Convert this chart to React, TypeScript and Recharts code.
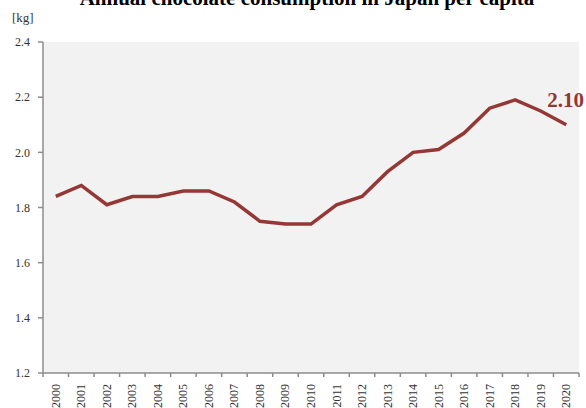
import React from 'react';
import { LineChart, Line, XAxis, YAxis, CartesianGrid, LabelList } from 'recharts';

const years = ['2000', '2001', '2002', '2003', '2004', '2005', '2006', '2007', '2008', '2009', '2010',
  '2011', '2012', '2013', '2014', '2015', '2016', '2017', '2018', '2019', '2020'];
const consumption = [1.84, 1.88, 1.81, 1.84, 1.84, 1.86, 1.86, 1.82, 1.75, 1.74, 1.74,
  1.81, 1.84, 1.93, 2.0, 2.01, 2.07, 2.16, 2.19, 2.15, 2.1];
const yTicks = [1.2, 1.4, 1.6, 1.8, 2.0, 2.2, 2.4];

const data = years.map((year, i) => ({ year, kg: consumption[i] }));

const W = 586;
const H = 408;
const PLOT_LEFT = 43;
const PLOT_RIGHT = 579;
const STEP = (PLOT_RIGHT - PLOT_LEFT) / years.length;

const font = '"Liberation Serif", "Times New Roman", serif';
const axisColor = '#8c8c8c';

const YearTick = (props: any) => {
  const { x, y, payload, index } = props;
  const isLast = index === years.length - 1;
  return (
    <g>
      <line x1={x - STEP / 2} y1={y - 8} x2={x - STEP / 2} y2={y - 4} stroke={axisColor} strokeWidth={1.5} />
      {isLast && <line x1={x + STEP / 2} y1={y - 8} x2={x + STEP / 2} y2={y - 4} stroke={axisColor} strokeWidth={1.5} />}
      <text
        x={0}
        y={0}
        transform={`translate(${x + 4},${y + 3}) rotate(-90)`}
        textAnchor="end"
        fontSize={12}
        fontFamily={font}
        fill="#333"
      >
        {payload.value}
      </text>
    </g>
  );
};

// value label on the last point only
const EndLabel = (props: any) => {
  const { x, y, index, value } = props;
  if (index !== years.length - 1) return null;
  return (
    <text x={x - 19} y={y - 18} fontSize={21} fontWeight="bold" fontFamily={font} fill="#943634">
      {Number(value).toFixed(2)}
    </text>
  );
};

export default function App() {
  return (
    <div style={{ position: 'fixed', left: 0, top: 0, width: W, height: H, background: '#fff', fontFamily: font, overflow: 'hidden' }}>
      <div style={{ position: 'absolute', left: 14, top: -14, width: W, textAlign: 'center', fontSize: 21, fontWeight: 'bold', color: '#000', whiteSpace: 'nowrap' }}>
        Annual chocolate consumption in Japan per capita
      </div>
      <div style={{ position: 'absolute', left: 12, top: 10, fontSize: 13, color: '#333' }}>[kg]</div>
      <LineChart width={W} height={H} data={data} margin={{ top: 42, right: W - PLOT_RIGHT, left: 0, bottom: 0 }}>
        <CartesianGrid fill="#f2f2f2" horizontal={false} vertical={false} />
        <XAxis
          dataKey="year"
          scale="band"
          height={35}
          interval={0}
          tickLine={false}
          axisLine={{ stroke: axisColor, strokeWidth: 1.5 }}
          tick={<YearTick />}
        />
        <YAxis
          width={PLOT_LEFT}
          domain={[1.2, 2.4]}
          ticks={yTicks}
          tickFormatter={(v: number) => v.toFixed(1)}
          tickSize={5}
          tickMargin={8}
          axisLine={{ stroke: axisColor, strokeWidth: 1.5 }}
          tickLine={{ stroke: axisColor, strokeWidth: 1.5 }}
          tick={{ fontSize: 12, fontFamily: font, fill: '#333' }}
        />
        <Line
          type="linear"
          dataKey="kg"
          stroke="#953735"
          strokeWidth={3.5}
          dot={false}
          isAnimationActive={false}
        >
          <LabelList dataKey="kg" content={<EndLabel />} />
        </Line>
      </LineChart>
    </div>
  );
}
